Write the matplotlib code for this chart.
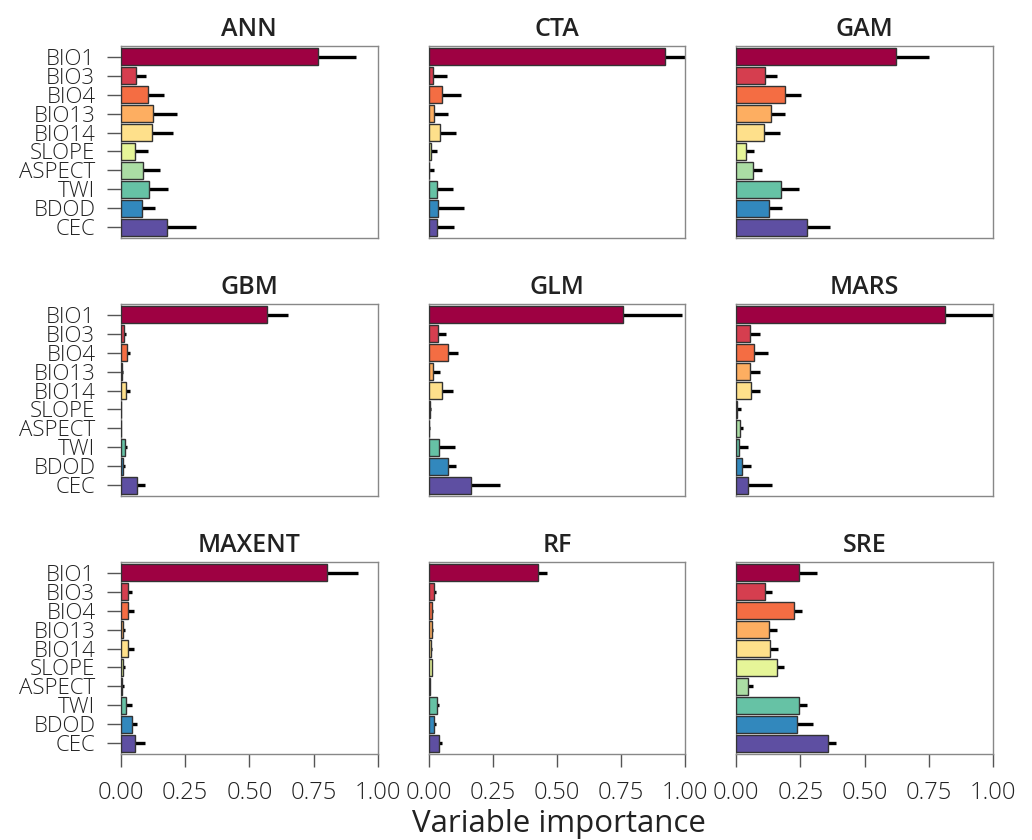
import numpy as np
import matplotlib
matplotlib.use("Agg")
import matplotlib.pyplot as plt

plt.rcParams['font.family'] = ['Open Sans', 'DejaVu Sans']

variables = ['BIO1', 'BIO3', 'BIO4', 'BIO13', 'BIO14', 'SLOPE', 'ASPECT',
             'TWI', 'BDOD', 'CEC']
colors = ['#9E0142', '#D53E4F', '#F46D43', '#FDAE61', '#FEE08B', '#E6F598',
          '#ABDDA4', '#66C2A5', '#3288BD', '#5E4FA2']

models = ['ANN', 'CTA', 'GAM', 'GBM', 'GLM', 'MARS', 'MAXENT', 'RF', 'SRE']

# mean importance per model (order as in `variables`)
means = {
    'ANN':    [0.766, 0.058, 0.104, 0.126, 0.119, 0.054, 0.087, 0.109, 0.082, 0.178],
    'CTA':    [0.919, 0.019, 0.052, 0.022, 0.044, 0.008, 0.003, 0.031, 0.036, 0.031],
    'GAM':    [0.621, 0.114, 0.191, 0.136, 0.107, 0.039, 0.067, 0.174, 0.129, 0.276],
    'GBM':    [0.568, 0.012, 0.022, 0.005, 0.018, 0.000, 0.000, 0.016, 0.008, 0.062],
    'GLM':    [0.757, 0.038, 0.077, 0.019, 0.053, 0.005, 0.003, 0.039, 0.075, 0.166],
    'MARS':   [0.813, 0.055, 0.069, 0.055, 0.056, 0.005, 0.014, 0.011, 0.022, 0.047],
    'MAXENT': [0.804, 0.026, 0.029, 0.009, 0.029, 0.008, 0.004, 0.018, 0.043, 0.056],
    'RF':     [0.426, 0.023, 0.013, 0.013, 0.011, 0.013, 0.006, 0.031, 0.023, 0.041],
    'SRE':    [0.243, 0.111, 0.226, 0.127, 0.133, 0.160, 0.047, 0.243, 0.237, 0.359],
}
# upper end of the error bar
uppers = {
    'ANN':    [0.914, 0.097, 0.167, 0.217, 0.204, 0.106, 0.154, 0.182, 0.134, 0.294],
    'CTA':    [1.050, 0.070, 0.127, 0.074, 0.108, 0.033, 0.022, 0.094, 0.138, 0.099],
    'GAM':    [0.751, 0.160, 0.252, 0.191, 0.171, 0.071, 0.099, 0.245, 0.180, 0.365],
    'GBM':    [0.652, 0.018, 0.035, 0.008, 0.036, 0.001, 0.001, 0.025, 0.017, 0.094],
    'GLM':    [0.987, 0.067, 0.116, 0.045, 0.097, 0.008, 0.005, 0.103, 0.108, 0.279],
    'MARS':   [1.050, 0.091, 0.122, 0.094, 0.094, 0.017, 0.027, 0.047, 0.056, 0.141],
    'MAXENT': [0.923, 0.044, 0.052, 0.016, 0.049, 0.016, 0.010, 0.044, 0.061, 0.092],
    'RF':     [0.462, 0.028, 0.016, 0.017, 0.014, 0.015, 0.007, 0.039, 0.028, 0.053],
    'SRE':    [0.315, 0.138, 0.255, 0.158, 0.164, 0.185, 0.066, 0.274, 0.298, 0.390],
}

xticks = [0.0, 0.25, 0.5, 0.75, 1.0]
xticklabels = ['0.00', '0.25', '0.50', '0.75', '1.00']

fig, axes = plt.subplots(3, 3, figsize=(10.32, 8.4), dpi=100)
fig.subplots_adjust(left=0.1172, right=0.9622, top=0.9452, bottom=0.1024,
                    wspace=0.198, hspace=0.344)

y = np.arange(len(variables))
for i, (ax, m) in enumerate(zip(axes.flat, models)):
    mu = np.array(means[m])
    up = np.array(uppers[m])
    ax.errorbar(mu, y, xerr=[np.zeros_like(mu), up - mu], fmt='none',
                ecolor='black', elinewidth=2.4, capsize=0, zorder=2)
    ax.barh(y, mu, height=0.88, color=colors, edgecolor='#333333',
            linewidth=1.0, zorder=3)
    ax.set_xlim(0, 1)
    ax.set_ylim(9.57, -0.57)
    ax.set_title(m, fontsize=18, fontweight='semibold', color='#222222', pad=7)
    for s in ax.spines.values():
        s.set_color('#888888')
        s.set_linewidth(1.0)
    ax.tick_params(axis='both', colors='#555555', labelcolor='#222222',
                   width=1.0)
    ax.tick_params(axis='y', length=10, pad=8.5, labelsize=16)
    ax.tick_params(axis='x', length=9.5, pad=10, labelsize=17)
    if i % 3 == 0:
        ax.set_yticks(y)
        ax.set_yticklabels(variables, fontweight='light')
    else:
        ax.set_yticks([])
    if i >= 6:
        ax.set_xticks(xticks)
        ax.set_xticklabels(xticklabels, fontweight='light')
    else:
        ax.set_xticks([])

fig.text(559 / 1032, 8 / 840, 'Variable importance', ha='center', va='baseline',
         fontsize=22.5, color='#222222')

plt.savefig('out.png', dpi=100)
